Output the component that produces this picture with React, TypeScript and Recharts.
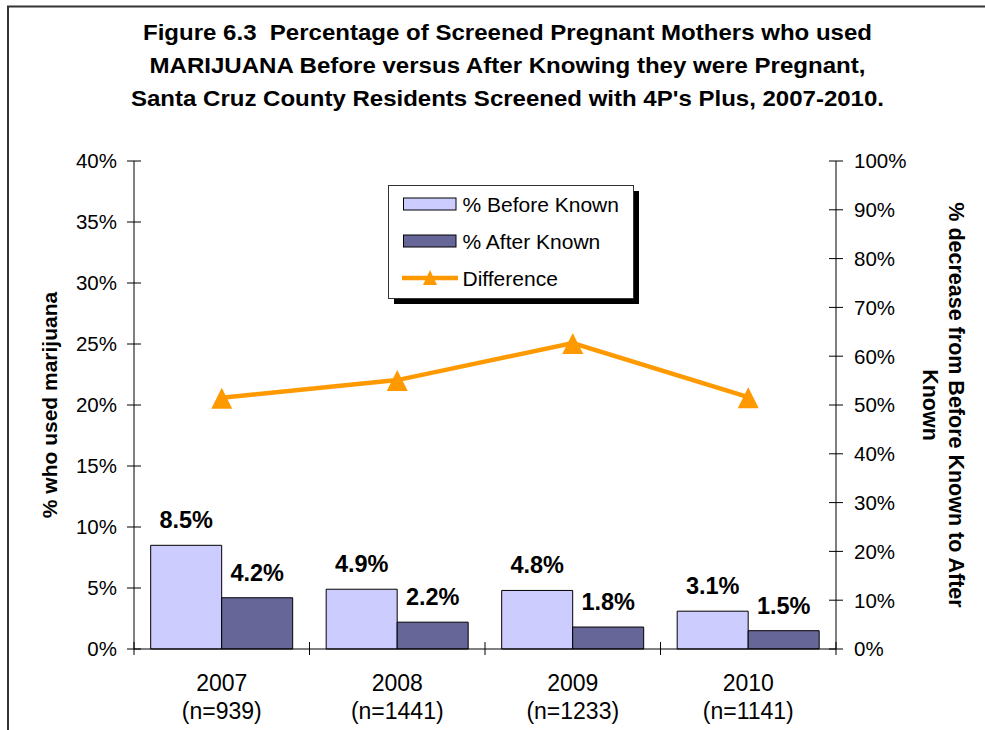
import { ComposedChart, Bar, Line, XAxis, YAxis, LabelList } from 'recharts'

const YEARS = ['2007', '2008', '2009', '2010']
const SAMPLE_SIZES = [939, 1441, 1233, 1141]
const BEFORE_KNOWN = [8.5, 4.9, 4.8, 3.1]
const AFTER_KNOWN = [4.2, 2.2, 1.8, 1.5]
const DIFFERENCE = [51.5, 55.1, 62.7, 51.6]
const LEFT_TICKS = [0, 5, 10, 15, 20, 25, 30, 35, 40]
const RIGHT_TICKS = [0, 10, 20, 30, 40, 50, 60, 70, 80, 90, 100]

const TITLE_LINES = [
    "Figure 6.3  Percentage of Screened Pregnant Mothers who used",
    'MARIJUANA Before versus After Knowing they were Pregnant,',
    "Santa Cruz County Residents Screened with 4P's Plus, 2007-2010.",
]
// widths of the title lines as measured on the original figure
const TITLE_WIDTHS = [729, 716, 753]

const BEFORE_COLOR = '#CCCCFF'
const AFTER_COLOR = '#666699'
const LINE_COLOR = '#FF9900'
const FONT = '"Liberation Sans", Arial, sans-serif'

const W = 985
const H = 730
const MARGIN = { top: 161, right: 69, bottom: 21, left: 54 }
const Y_AXIS_W = 80
const X_AXIS_H = 60
const PLOT_W = W - MARGIN.left - MARGIN.right - 2 * Y_AXIS_W
const BAND = PLOT_W / YEARS.length

const data = YEARS.map((year, i) => ({
    year,
    n: SAMPLE_SIZES[i],
    before: BEFORE_KNOWN[i],
    after: AFTER_KNOWN[i],
    diff: DIFFERENCE[i],
}))

const LEFT_MARGIN = 17
const RIGHT_MARGIN = 18
const X_MARGIN = 10

function LeftTick({ x, y, payload }: any) {
    const ax = x + LEFT_MARGIN
    return (
        <g>
            <line x1={ax - 7} x2={ax + 7} y1={y} y2={y} stroke="#000" />
            <text x={x} y={y} dy="0.36em" textAnchor="end" fontSize={20.5} fontFamily={FONT} fill="#000">
                {payload.value}%
            </text>
        </g>
    )
}

function RightTick({ x, y, payload }: any) {
    const ax = x - RIGHT_MARGIN
    return (
        <g>
            <line x1={ax - 7} x2={ax + 7} y1={y} y2={y} stroke="#000" />
            <text x={x} y={y} dy="0.36em" textAnchor="start" fontSize={20.5} fontFamily={FONT} fill="#000">
                {payload.value}%
            </text>
        </g>
    )
}

function CategoryTick({ x, y, payload, index }: any) {
    const ay = y - X_MARGIN
    const left = x - BAND / 2
    return (
        <g>
            <line x1={left} x2={left} y1={ay - 7} y2={ay + 6} stroke="#000" />
            {index === YEARS.length - 1 && (
                <line x1={x + BAND / 2} x2={x + BAND / 2} y1={ay - 7} y2={ay + 6} stroke="#000" />
            )}
            <text x={x} y={ay + 42} textAnchor="middle" fontSize={23} fontFamily={FONT} fill="#000">
                {payload.value}
            </text>
            <text x={x} y={ay + 70} textAnchor="middle" fontSize={23} fontFamily={FONT} fill="#000">
                (n={SAMPLE_SIZES[index]})
            </text>
        </g>
    )
}

function Triangle({ cx, cy, fill }: { cx: number; cy: number; fill: string }) {
    return <polygon points={`${cx},${cy - 10} ${cx - 10.5},${cy + 11} ${cx + 10.5},${cy + 11}`} fill={fill} />
}

function BarValue({ x, y, width, value }: any) {
    return (
        <text x={x + width / 2} y={y - 17} textAnchor="middle" fontSize={23.5} fontWeight="bold" fontFamily={FONT} fill="#000">
            {Number(value).toFixed(1)}%
        </text>
    )
}

const LEGEND_ITEMS = [
    { label: '% Before Known', kind: 'bar', color: BEFORE_COLOR },
    { label: '% After Known', kind: 'bar', color: AFTER_COLOR },
    { label: 'Difference', kind: 'line', color: LINE_COLOR },
]

export default function App() {
    return (
        <div style={{ position: 'absolute', left: 0, top: 0, width: W, height: H, overflow: 'hidden', background: '#fff' }}>
            <ComposedChart
                width={W}
                height={H}
                data={data}
                margin={MARGIN}
                barCategoryGap="9.5%"
                barGap={0}
            >
                <XAxis
                    dataKey="year"
                    height={X_AXIS_H}
                    axisLine={{ stroke: '#000' }}
                    tickLine={false}
                    tickSize={0}
                    tickMargin={X_MARGIN}
                    tick={<CategoryTick />}
                    interval={0}
                />
                <YAxis
                    yAxisId="left"
                    width={Y_AXIS_W}
                    domain={[0, 40]}
                    ticks={LEFT_TICKS}
                    axisLine={{ stroke: '#000' }}
                    tickLine={false}
                    tickSize={0}
                    tickMargin={LEFT_MARGIN}
                    tick={<LeftTick />}
                    interval={0}
                />
                <YAxis
                    yAxisId="right"
                    orientation="right"
                    width={Y_AXIS_W}
                    domain={[0, 100]}
                    ticks={RIGHT_TICKS}
                    axisLine={{ stroke: '#000' }}
                    tickLine={false}
                    tickSize={0}
                    tickMargin={RIGHT_MARGIN}
                    tick={<RightTick />}
                    interval={0}
                />
                <Bar yAxisId="left" dataKey="before" fill={BEFORE_COLOR} stroke="#000" strokeWidth={1} isAnimationActive={false}>
                    <LabelList dataKey="before" content={<BarValue />} />
                </Bar>
                <Bar yAxisId="left" dataKey="after" fill={AFTER_COLOR} stroke="#000" strokeWidth={1} isAnimationActive={false}>
                    <LabelList dataKey="after" content={<BarValue />} />
                </Bar>
                <Line
                    yAxisId="right"
                    dataKey="diff"
                    stroke={LINE_COLOR}
                    strokeWidth={4.5}
                    dot={(p: any) => <Triangle key={p.index} cx={p.cx} cy={p.cy} fill={LINE_COLOR} />}
                    activeDot={false}
                    isAnimationActive={false}
                />
            </ComposedChart>

            <svg width={W} height={H} style={{ position: 'absolute', left: 0, top: 0, pointerEvents: 'none' }}>
                <rect x={8} y={6.5} width={1200} height={1000} fill="none" stroke="#333" strokeWidth={2} />
                {TITLE_LINES.map((t, i) => (
                    <text
                        key={i}
                        x={507.5}
                        y={40 + i * 33}
                        textAnchor="middle"
                        xmlSpace="preserve"
                        textLength={TITLE_WIDTHS[i]}
                        lengthAdjust="spacingAndGlyphs"
                        fontSize={21.5}
                        fontWeight="bold"
                        fontFamily={FONT}
                        fill="#000"
                    >
                        {t}
                    </text>
                ))}
                <text x={57} y={405} transform="rotate(-90, 57, 405)" textAnchor="middle" fontSize={21} fontWeight="bold" fontFamily={FONT} fill="#000">
                    % who used marijuana
                </text>
                <text x={949} y={405} transform="rotate(90, 949, 405)" textAnchor="middle" fontSize={21.5} fontWeight="bold" fontFamily={FONT} fill="#000">
                    % decrease from Before Known to After
                </text>
                <text x={923} y={405} transform="rotate(90, 923, 405)" textAnchor="middle" fontSize={21.5} fontWeight="bold" fontFamily={FONT} fill="#000">
                    Known
                </text>

                <rect x={394} y={191} width={245} height={113} fill="#000" />
                <rect x={388.5} y={185.5} width={245} height={113} fill="#fff" stroke="#333" strokeWidth={1} />
                {LEGEND_ITEMS.map((item, i) => {
                    const cy = 204 + i * 37
                    return (
                        <g key={item.label}>
                            {item.kind === 'bar' ? (
                                <rect x={403.5} y={cy - 6} width={52.5} height={12} fill={item.color} stroke="#000" strokeWidth={1} />
                            ) : (
                                <g>
                                    <line x1={402} x2={458} y1={cy} y2={cy} stroke={item.color} strokeWidth={4.5} />
                                    <polygon points={`430,${cy - 8} ${423},${cy + 7} ${437},${cy + 7}`} fill={item.color} />
                                </g>
                            )}
                            <text x={462.5} y={cy + 7.5} fontSize={21} fontFamily={FONT} fill="#000">
                                {item.label}
                            </text>
                        </g>
                    )
                })}
            </svg>
        </div>
    )
}
